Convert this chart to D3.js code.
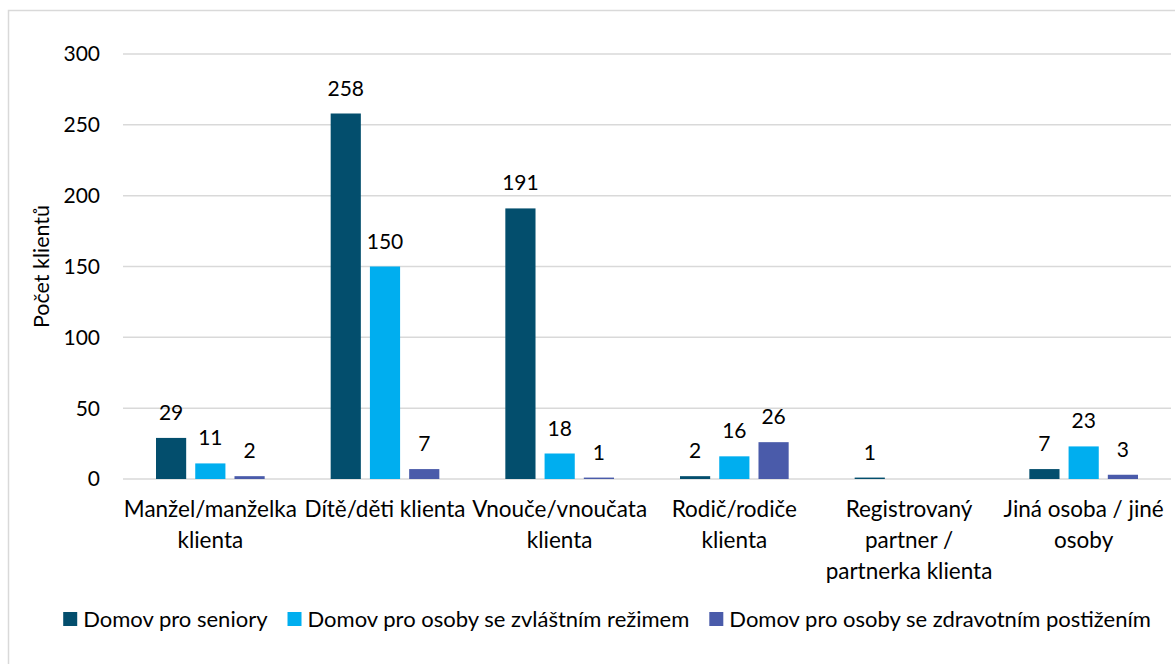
<!DOCTYPE html>
<html>
<head>
<meta charset="utf-8">
<script src="https://cdn.jsdelivr.net/npm/d3@7"></script>
<style>
  body { margin: 0; background: #fff; }
  svg text { font-family: Lato, "Open Sans", sans-serif; fill: #000; }
</style>
</head>
<body>
<svg id="chart" width="1175" height="664"></svg>
<script>
// categories (each label split into its lines)
var categories = [
  ["Manžel/manželka", "klienta"],
  ["Dítě/děti klienta"],
  ["Vnouče/vnoučata", "klienta"],
  ["Rodič/rodiče", "klienta"],
  ["Registrovaný", "partner /", "partnerka klienta"],
  ["Jiná osoba / jiné", "osoby"]
];
var seriesNames = ["Domov pro seniory", "Domov pro osoby se zvláštním režimem", "Domov pro osoby se zdravotním postižením"];
var seniory   = [29, 258, 191, 2, 1, 7];
var rezim     = [11, 150, 18, 16, null, 23];
var postizeni = [2, 7, 1, 26, null, 3];
var yTicks = [0, 50, 100, 150, 200, 250, 300];
var colors = ["#034E6D", "#00AEEF", "#4A5BAA"];

var svg = d3.select("#chart");
var catFont = 22.5, numFont = 21, legFont = 22;

// outer frame
svg.append("rect")
  .attr("x", 8.5).attr("y", 10.5)
  .attr("width", 1200).attr("height", 700)
  .attr("fill", "none").attr("stroke", "#d9d9d9").attr("stroke-width", 1.5);

var margin = {left: 123, right: 1171, top: 54, bottom: 479};
var series = [seniory, rezim, postizeni];
var catIdx = d3.range(categories.length);

var x0 = d3.scaleBand().domain(catIdx).range([margin.left, margin.right]).padding(0);
var x1 = d3.scaleBand().domain([0, 1, 2]).range([33, x0.bandwidth() - 33]).paddingInner(0.231).paddingOuter(0);
var y = d3.scaleLinear().domain([0, 300]).range([margin.bottom, margin.top]);

// gridlines
svg.append("g").selectAll("line").data(yTicks).join("line")
  .attr("x1", margin.left).attr("x2", margin.right)
  .attr("y1", d => y(d)).attr("y2", d => y(d))
  .attr("stroke", "#d9d9d9").attr("stroke-width", 1.5);

// y tick labels
svg.append("g").selectAll("text").data(yTicks).join("text")
  .attr("x", 100).attr("y", d => y(d)).attr("dy", "0.35em")
  .attr("text-anchor", "end").style("font-size", numFont + "px")
  .text(d => d);

// y axis title
svg.append("text")
  .attr("transform", "translate(49," + ((margin.top + margin.bottom) / 2) + ") rotate(-90)")
  .attr("text-anchor", "middle").style("font-size", "21.5px")
  .text("Počet klientů");

// bars
series.forEach(function(vals, s) {
  var g = svg.append("g");
  g.selectAll("rect").data(catIdx.filter(i => vals[i] != null)).join("rect")
    .attr("x", i => x0(i) + x1(s))
    .attr("y", i => y(vals[i]))
    .attr("width", x1.bandwidth())
    .attr("height", i => y(0) - y(vals[i]))
    .attr("fill", colors[s]);
  g.selectAll("text").data(catIdx.filter(i => vals[i] != null)).join("text")
    .attr("x", i => x0(i) + x1(s) + x1.bandwidth() / 2)
    .attr("y", i => y(vals[i]) - 18)
    .attr("text-anchor", "middle").style("font-size", numFont + "px")
    .text(i => vals[i]);
});

// category labels
catIdx.forEach(function(i) {
  var t = svg.append("text")
    .attr("text-anchor", "middle").style("font-size", catFont + "px");
  categories[i].forEach(function(line, k) {
    t.append("tspan")
      .attr("x", x0(i) + x0.bandwidth() / 2)
      .attr("y", 517 + k * 31)
      .text(line);
  });
});

// legend
var legend = svg.append("g");
var items = [];
seriesNames.forEach(function(name, s) {
  var g = legend.append("g");
  g.append("rect").attr("x", 0).attr("y", -7).attr("width", 14).attr("height", 14).attr("fill", colors[s]);
  var t = g.append("text").attr("x", 20).attr("y", 0).attr("dy", "0.35em")
    .style("font-size", legFont + "px").text(name);
  items.push({g: g, w: 20 + t.node().getComputedTextLength()});
});
var gap = 20;
var total = d3.sum(items, d => d.w) + gap * (items.length - 1);
var lx = 607 - total / 2;
items.forEach(function(it) {
  it.g.attr("transform", "translate(" + lx + ",619)");
  lx += it.w + gap;
});
</script>
</body>
</html>
